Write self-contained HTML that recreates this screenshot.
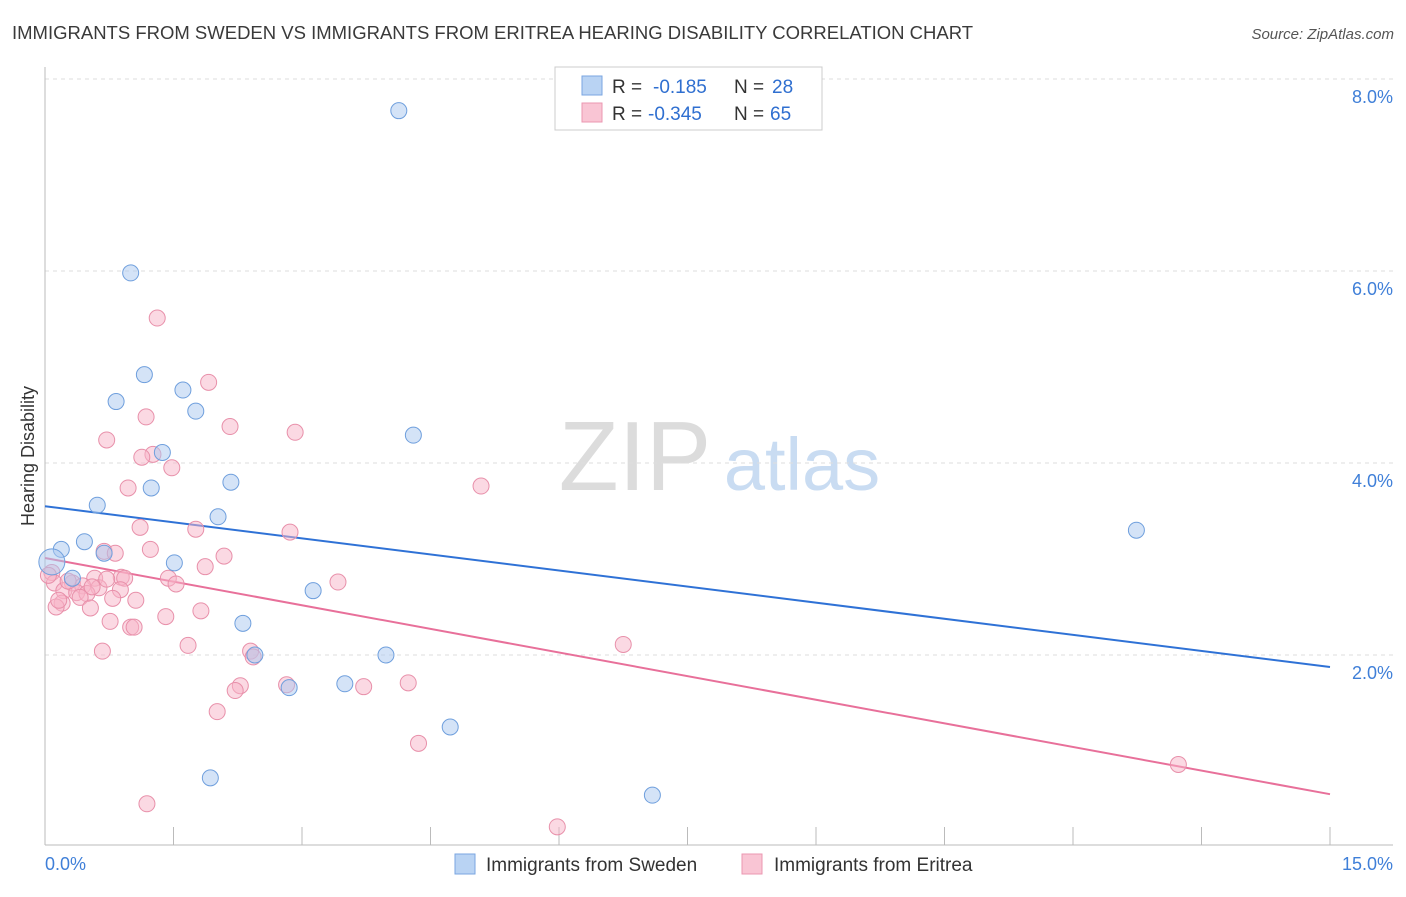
<!DOCTYPE html>
<html><head><meta charset="utf-8"><style>
body{margin:0;background:#fff;font-family:"Liberation Sans",sans-serif;}
svg text{font-family:"Liberation Sans",sans-serif;}
</style></head><body>
<svg id="chart" width="1406" height="892" xmlns="http://www.w3.org/2000/svg">
<text x="12" y="39" font-size="18.5" fill="#3a3a3a">IMMIGRANTS FROM SWEDEN VS IMMIGRANTS FROM ERITREA HEARING DISABILITY CORRELATION CHART</text>
<text x="1394" y="39" font-size="15" fill="#555" text-anchor="end" font-style="italic">Source: ZipAtlas.com</text>
<text transform="translate(34,456) rotate(-90)" font-size="18" fill="#333" text-anchor="middle">Hearing Disability</text>
<g>
<text x="635" y="490" font-size="98" fill="#dcdcdc" font-family="Liberation Serif" text-anchor="middle">ZIP</text>
<text x="802" y="490" font-size="74" fill="#c9dcf2" text-anchor="middle">atlas</text>
</g>
<g id="grid"></g><g id="axes"></g><g id="lines"></g><g id="pts"></g>
<g>
<rect x="555" y="67" width="267" height="63" fill="#fff" stroke="#ccc"/>
<rect x="582" y="76" width="20" height="19" fill="#b9d3f3" stroke="#7aa6e0"/>
<rect x="582" y="103" width="20" height="19" fill="#f9c5d4" stroke="#eb97b1"/>
<text x="612" y="93" font-size="19" fill="#333">R = </text><text x="653" y="93" font-size="19" fill="#2f6fd0">-0.185</text>
<text x="734" y="93" font-size="19" fill="#333">N = </text><text x="772" y="93" font-size="19" fill="#2f6fd0">28</text>
<text x="612" y="120" font-size="19" fill="#333">R = </text><text x="648" y="120" font-size="19" fill="#2f6fd0">-0.345</text>
<text x="734" y="120" font-size="19" fill="#333">N = </text><text x="770" y="120" font-size="19" fill="#2f6fd0">65</text>
</g>
<g>
<rect x="455" y="854" width="20" height="20" fill="#b9d3f3" stroke="#7aa6e0"/>
<text x="486" y="871" font-size="19" fill="#333">Immigrants from Sweden</text>
<rect x="742" y="854" width="20" height="20" fill="#f9c5d4" stroke="#eb97b1"/>
<text x="774" y="871" font-size="19" fill="#333">Immigrants from Eritrea</text>
</g>
</svg>
<script>
const yTicks=[2,4,6,8];
const yTickLabels=["2.0%","4.0%","6.0%","8.0%"];
const xTickLabels=["0.0%","15.0%"];
const swedenX=[4.13,1.00,1.16,1.61,0.83,1.76,4.30,1.37,1.24,2.17,0.61,2.02,0.46,0.19,0.69,0.08,1.51,0.32,3.13,2.31,2.45,3.98,3.50,2.85,4.73,1.93,7.09,12.74];
const swedenY=[7.67,5.98,4.92,4.76,4.64,4.54,4.29,4.11,3.74,3.80,3.56,3.44,3.18,3.10,3.06,2.97,2.96,2.80,2.67,2.33,2.00,2.00,1.70,1.66,1.25,0.72,0.54,3.30];
const eritreaX=[1.31,1.91,1.18,2.16,2.92,0.72,1.26,1.13,1.48,5.09,0.97,1.11,1.76,2.86,1.23,0.69,0.82,2.09,1.87,0.08,0.89,1.44,0.58,0.93,3.42,0.11,0.32,1.53,0.44,0.63,0.22,0.88,0.37,0.49,0.41,1.06,0.20,0.53,0.13,1.82,1.41,0.76,1.00,1.04,1.67,6.75,0.67,2.40,2.43,2.82,4.24,2.28,2.22,3.72,2.01,4.36,13.23,1.19,5.98,0.04,0.27,0.72,0.79,0.55,0.16];
const eritreaY=[5.51,4.84,4.48,4.38,4.32,4.24,4.09,4.06,3.95,3.76,3.74,3.33,3.31,3.28,3.10,3.08,3.06,3.03,2.92,2.86,2.81,2.80,2.80,2.80,2.76,2.75,2.75,2.74,2.72,2.70,2.67,2.68,2.65,2.64,2.60,2.57,2.54,2.49,2.50,2.46,2.40,2.35,2.29,2.29,2.10,2.11,2.04,2.04,1.98,1.69,1.71,1.68,1.63,1.67,1.41,1.08,0.86,0.45,0.21,2.83,2.77,2.79,2.59,2.71,2.57];
const swedenTrend=[3.55,1.875];
const eritreaTrend=[3.01,0.55];
const NS="http://www.w3.org/2000/svg";
function sx(v){return 45+v/15*1285;}
function sy(v){return 847-v*96;}
function mk(tag,attrs,parent){const e=document.createElementNS(NS,tag);for(const k in attrs)e.setAttribute(k,attrs[k]);document.getElementById(parent).appendChild(e);return e;}
yTicks.forEach((t,i)=>{
 const g=mk('line',{x1:45,x2:1393,y1:sy(t),y2:sy(t),stroke:'#dedede','stroke-dasharray':'4,4'},'grid');
 
 
 const l=mk('text',{x:1393,y:sy(t)+24,'font-size':18,fill:'#3f7fd8','text-anchor':'end'},'grid');
 l.textContent=yTickLabels[i];
 
 
});
const ax=mk('line',{x1:45,x2:45,y1:67,y2:845,stroke:'#bbb'},'axes');


const bx=mk('line',{x1:45,x2:1393,y1:845,y2:845,stroke:'#bbb'},'axes');


for(let i=0;i<=10;i++){
 const t=mk('line',{x1:sx(i*1.5),x2:sx(i*1.5),y1:827,y2:845,stroke:'#bbb'},'axes');
 
 
}
[[0,'start',45],[1,'end',1393]].forEach(([i,a,x])=>{
 const l=mk('text',{x:x,y:870,'font-size':18,fill:'#3f7fd8','text-anchor':a},'axes');
 l.textContent=xTickLabels[i];
 
 
});
function pts(X,Y,fill,stroke,name){
 X.forEach((x,i)=>{
  const c=mk('circle',{cx:sx(x),cy:sy(Y[i]),r:(name==='sweden-point'&&i===15)?13:8,fill:fill,'fill-opacity':0.5,stroke:stroke,'stroke-width':1},'pts');
  
  
 });
}
pts(eritreaX,eritreaY,'#f7b3c7','#e890aa','eritrea-point');
pts(swedenX,swedenY,'#a9c8f0','#6f9fdd','sweden-point');
const l1=mk('line',{x1:sx(0),y1:sy(swedenTrend[0]),x2:sx(15),y2:sy(swedenTrend[1]),stroke:'#2f72d6','stroke-width':2},'lines');


const l2=mk('line',{x1:sx(0),y1:sy(eritreaTrend[0]),x2:sx(15),y2:sy(eritreaTrend[1]),stroke:'#e8709a','stroke-width':2},'lines');


</script>
</body></html>
